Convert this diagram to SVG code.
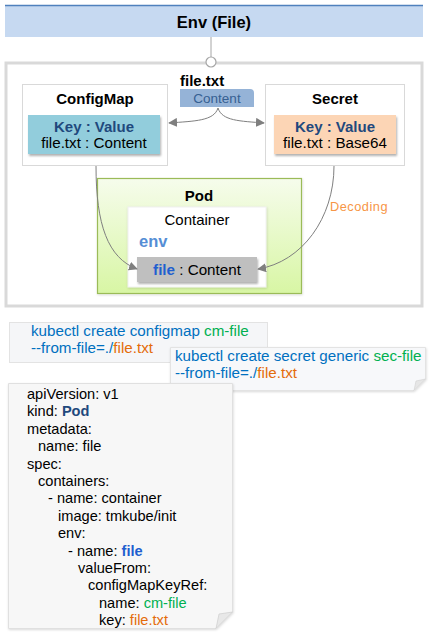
<svg xmlns="http://www.w3.org/2000/svg" width="429" height="640" viewBox="0 0 429 640">
<style>
text{font-family:"Liberation Sans",Arial,sans-serif;}
.b{font-weight:bold;}
.conn{fill:none;stroke:#7F7F7F;stroke-width:1;}
.cmd{font-size:15.2px;fill:#0070C0;}
.g{fill:#00B050;}
.o{fill:#E46C0A;}
.y{font-size:14.6px;fill:#000;}
</style>
<defs>
<marker id="ah" viewBox="0 0 10 10" refX="9" refY="5" markerWidth="9" markerHeight="9" orient="auto" markerUnits="userSpaceOnUse">
<path d="M0,0 L10,5 L0,10 z" fill="#7F7F7F"/>
</marker>
<filter id="sh" x="-10%" y="-10%" width="125%" height="140%">
<feDropShadow dx="1" dy="2" stdDeviation="1.2" flood-color="#000" flood-opacity="0.3"/>
</filter>
<filter id="sh2" x="-10%" y="-10%" width="125%" height="130%">
<feDropShadow dx="0.5" dy="1" stdDeviation="1" flood-color="#000" flood-opacity="0.15"/>
</filter>
<linearGradient id="podg" x1="0" y1="0" x2="0" y2="1">
<stop offset="0" stop-color="#F6FCEC"/>
<stop offset="1" stop-color="#D8F6A4"/>
</linearGradient>
</defs>

<g id="title">
<rect x="5" y="5" width="418" height="32" fill="#C6D9F1"/>
<line x1="5" y1="5.5" x2="423" y2="5.5" stroke="#4F81BD" stroke-width="1.5"/>
<text x="214" y="28" font-size="16.5" class="b" text-anchor="middle">Env (File)</text>
</g>

<g id="outer">
<rect x="6" y="63" width="416" height="243" fill="#FFFFFF" stroke="#D9D9D9" stroke-width="3"/>
</g>

<g id="filetxt">
<text x="180" y="86" font-size="15" class="b">file.txt</text>
<path d="M180,89 H250 Q254,89 254,93 V107 H180 Z" fill="#95B3D7"/>
<text x="217" y="103" font-size="13.5" fill="#366092" text-anchor="middle">Content</text>
</g>

<g id="configmap">
<rect x="22.5" y="84.5" width="145" height="81" fill="#FFFFFF" stroke="#D9D9D9"/>
<text x="95" y="104" font-size="15" class="b" text-anchor="middle">ConfigMap</text>
<rect x="28" y="115" width="132" height="39" fill="#92CDDC" filter="url(#sh)"/>
<text x="94" y="132" font-size="15" class="b" fill="#1F497D" text-anchor="middle">Key : Value</text>
<text x="94" y="148" font-size="15.2" text-anchor="middle">file.txt : Content</text>
</g>

<g id="secret">
<rect x="265.5" y="84.5" width="139" height="81" fill="#FFFFFF" stroke="#D9D9D9"/>
<text x="335" y="104" font-size="15" class="b" text-anchor="middle">Secret</text>
<rect x="274" y="115" width="122" height="39" fill="#FCD5B5" filter="url(#sh)"/>
<text x="335" y="132" font-size="15" class="b" fill="#1F497D" text-anchor="middle">Key : Value</text>
<text x="335" y="148" font-size="15.2" text-anchor="middle">file.txt : Base64</text>
</g>

<g id="decoding">
<text x="330" y="211" font-size="12.8" fill="#F79646" letter-spacing="0.5">Decoding</text>
</g>

<g id="pod">
<rect x="97.5" y="178.5" width="204" height="115" fill="url(#podg)" stroke="#9BBB59" stroke-width="1.2" filter="url(#sh2)"/>
<text x="199" y="201" font-size="15" class="b" text-anchor="middle">Pod</text>
</g>

<g id="container">
<rect x="128" y="207" width="138" height="80" fill="#FFFFFF" stroke="#F0F0F0" filter="url(#sh2)"/>
<text x="197" y="225" font-size="15" text-anchor="middle">Container</text>
<text x="139" y="247" font-size="16.5" class="b" fill="#558ED5">env</text>
<rect x="137" y="257" width="120" height="25" fill="#BFBFBF" filter="url(#sh)"/>
<text x="197" y="274.5" font-size="15.2" text-anchor="middle"><tspan class="b" fill="#1F5FCF">file</tspan> : Content</text>
</g>

<g id="cmd-configmap">
<rect x="9.5" y="322.5" width="258" height="40" fill="#F5F6F8" stroke="#E3E3E3"/>
<text class="cmd" x="31" y="336">kubectl create configmap <tspan class="g">cm-file</tspan></text>
<text class="cmd" x="31" y="353">--from-file=./<tspan class="o">file.txt</tspan></text>
</g>

<g id="cmd-secret">
<path d="M170.5,347.5 H425.5 V379 L414,390.5 H170.5 Z" fill="#F7F8FA" stroke="#E3E3E3" filter="url(#sh2)"/>
<path d="M425.5,379 L414,390.5 L416,381 Z" fill="#E6E6E6" stroke="#D0D0D0" stroke-width="0.6"/>
<text class="cmd" x="175" y="361">kubectl create secret generic <tspan class="g">sec-file</tspan></text>
<text class="cmd" x="175" y="378">--from-file=./<tspan class="o">file.txt</tspan></text>
</g>

<g id="yaml">
<path d="M8.5,383.5 H232.5 V612 L216,628.5 H8.5 Z" fill="#F7F7F7" stroke="#E0E0E0" filter="url(#sh2)"/>
<path d="M232.5,612 L216,628.5 L219,614 Z" fill="#E8E8E8" stroke="#C8C8C8" stroke-width="0.6"/>
<text class="y" x="27" y="399">apiVersion: v1</text>
<text class="y" x="27" y="416.4">kind: <tspan class="b" fill="#1F497D">Pod</tspan></text>
<text class="y" x="27" y="433.8">metadata:</text>
<text class="y" x="38" y="451.2">name: file</text>
<text class="y" x="27" y="468.6">spec:</text>
<text class="y" x="38" y="486">containers:</text>
<text class="y" x="48" y="503.4">- name: container</text>
<text class="y" x="58" y="520.8">image: tmkube/init</text>
<text class="y" x="58" y="538.2">env:</text>
<text class="y" x="68" y="555.6">- name: <tspan class="b" fill="#1F5FCF">file</tspan></text>
<text class="y" x="78" y="573">valueFrom:</text>
<text class="y" x="88" y="590.4">configMapKeyRef:</text>
<text class="y" x="99" y="607.8">name: <tspan class="g">cm-file</tspan></text>
<text class="y" x="99" y="625.2">key: <tspan class="o">file.txt</tspan></text>
</g>

<g id="connectors">
<line x1="211" y1="37" x2="211" y2="57" stroke="#A6A6A6" stroke-width="1"/>
<path class="conn" d="M218,108 C214,121 195,121 169,123" marker-end="url(#ah)"/>
<path class="conn" d="M218,108 C222,121 240,121 264,123" marker-end="url(#ah)"/>
<path class="conn" d="M96,166 C96,225 108,258 137,269" marker-end="url(#ah)"/>
<path class="conn" d="M334,166 C334,218 302,262 258,269" marker-end="url(#ah)"/>
</g>

<g id="port">
<circle cx="211" cy="62" r="5" fill="#FFFFFF" stroke="#A6A6A6" stroke-width="1.2"/>
</g>
</svg>
